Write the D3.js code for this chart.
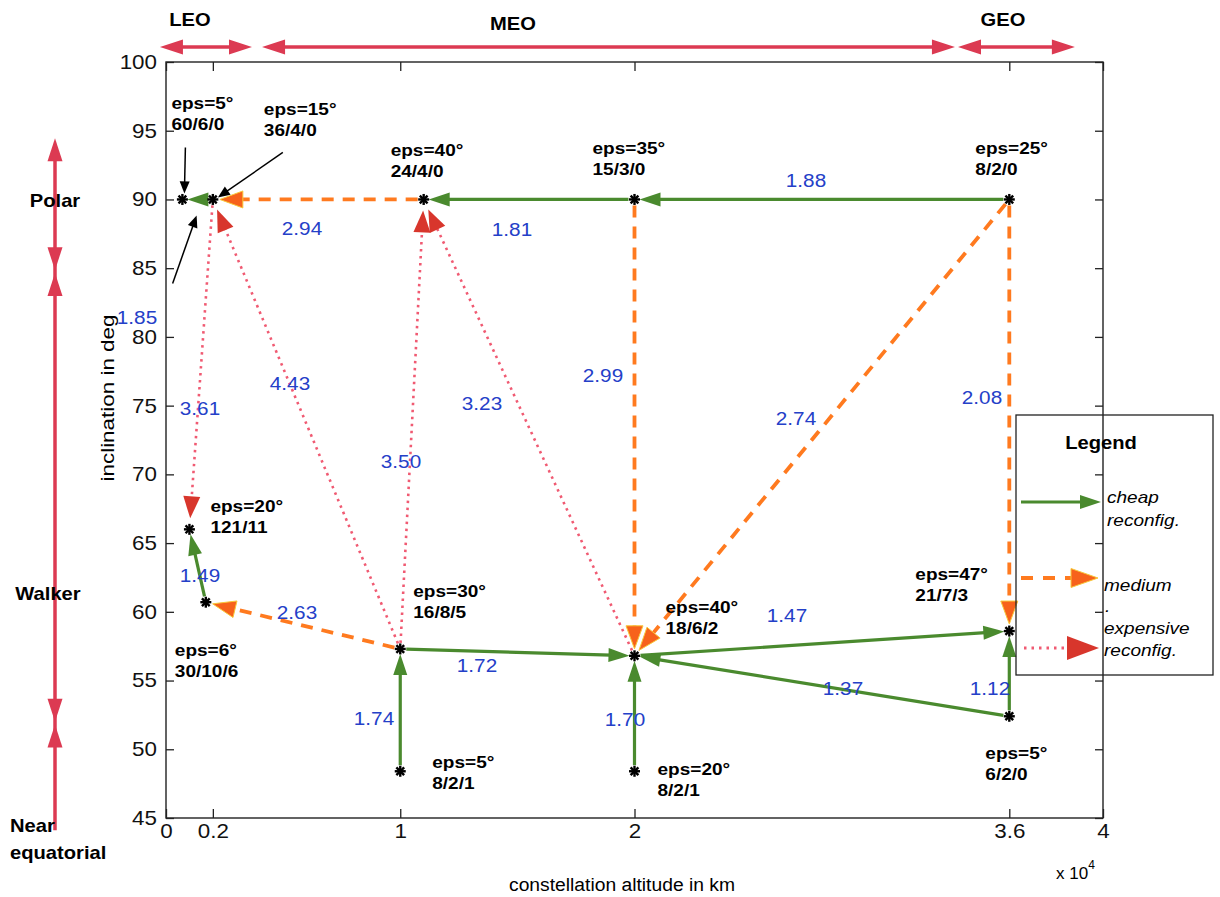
<!DOCTYPE html>
<html><head><meta charset="utf-8">
<script src="https://cdn.jsdelivr.net/npm/d3@7"></script>
<style>body{margin:0;background:#fff}</style>
</head><body>
<svg id="c" width="1220" height="897" xmlns="http://www.w3.org/2000/svg"></svg>
<script>
// ---------------- data ----------------
const xTicks = [0, 0.2, 1, 2, 3.6, 4];
const xTickLabels = ["0", "0.2", "1", "2", "3.6", "4"];
const yTicks = [45, 50, 55, 60, 65, 70, 75, 80, 85, 90, 95, 100];

// constellation nodes: altitude (x10^4 km), inclination (deg)
const nodeIds  = ["A", "B", "C", "D", "E", "F", "G", "H", "I", "J", "K", "L", "M"];
const nodeAlt  = [0.07, 0.2, 1.1, 2.0, 3.6, 0.1, 0.17, 1.0, 2.0, 3.6, 3.6, 1.0, 2.0];
const nodeInc  = [90, 90, 90, 90, 90, 66, 60.7, 57.3, 56.8, 58.6, 52.4, 48.4, 48.4];
const nodeEps  = ["eps=5°", "eps=15°", "eps=40°", "eps=35°", "eps=25°", "eps=20°", "eps=6°",
                  "eps=30°", "eps=40°", "eps=47°", "eps=5°", "eps=5°", "eps=20°"];
const nodeCfg  = ["60/6/0", "36/4/0", "24/4/0", "15/3/0", "8/2/0", "121/11", "30/10/6",
                  "16/8/5", "18/6/2", "21/7/3", "6/2/0", "8/2/1", "8/2/1"];

// reconfiguration transitions
const edgeFrom = ["B","G","L","H","M","I","K","K","D","E", "C","D","E","E","H", "B","H","H","I"];
const edgeTo   = ["A","F","H","I","I","J","I","J","C","D", "B","I","I","J","G", "F","B","C","C"];
const edgeCost = ["1.85","1.49","1.74","1.72","1.70","1.47","1.37","1.12","1.81","1.88",
                  "2.94","2.99","2.74","2.08","2.63", "3.61","4.43","3.50","3.23"];
const edgeType = ["cheap","cheap","cheap","cheap","cheap","cheap","cheap","cheap","cheap","cheap",
                  "medium","medium","medium","medium","medium",
                  "expensive","expensive","expensive","expensive"];

// orbit regimes (altitude ranges, x10^4 km) and inclination bands (deg)
const orbitNames = ["LEO", "MEO", "GEO"];
const orbitFrom  = [-0.026, 0.41, 3.381];
const orbitTo    = [0.367, 3.368, 3.88];
const bandNames  = ["Polar", "Walker", "Near equatorial"];
const bandFrom   = [84.85, 52.0, 44.1];
const bandTo     = [94.45, 84.65, 51.8];

// ---------------- layout (pixels) ----------------
const M = {left: 166, right: 1103, top: 62, bottom: 818};
const nodeLabelOff = { A:[-11,-97], B:[51,-91], C:[-33,-50], D:[-42,-52], E:[-34,-52],
  F:[21,-23], G:[-31,48], H:[13,-58], I:[31,-49], J:[-94,-57], K:[-24,37], L:[32,-9], M:[23,-2] };
const costLabelPos = [[137,317],[200,575],[374,718],[477,665],[625,719],[787,615],[843,688],[990,688],
  [512,229],[806,180],[302,228],[603,375],[796,418],[982,397],[297,612],[200,408],[290,383],[401,461],[482,403]];
const orbitLabelX = [190, 513, 1003];
const orbitLabelY = [20, 24, 20];

const COL = {
  green: "#4a8a2e", orange: "#ff7a1f", orangeHead: "#f7621b", orangeEdge: "#f8c83a",
  pink: "#f05a72", redHead: "#d8362c", band: "#dc3a52", blue: "#2440c8"
};
const FONT = "'Liberation Sans', Arial, Helvetica, sans-serif";
const SX = 1.12;

const svg = d3.select("#c");
const x = d3.scaleLinear().domain([0, 4]).range([M.left, M.right]);
const y = d3.scaleLinear().domain([45, 100]).range([M.bottom, M.top]);

function T(g, px, py, s, o = {}) {
  return g.append("text")
    .attr("transform", `translate(${px},${py}) scale(${o.sx ?? SX},1)`)
    .attr("dy", "0.36em")
    .attr("font-family", FONT)
    .attr("font-size", o.size ?? 17)
    .attr("font-weight", o.weight ?? "normal")
    .attr("font-style", o.style ?? "normal")
    .attr("text-anchor", o.anchor ?? "start")
    .attr("fill", o.fill ?? "#000")
    .text(s);
}

function head(g, tx, ty, ux, uy, L, hw, fill, stroke) {
  const bx = tx - ux * L, by = ty - uy * L;
  const nx = -uy, ny = ux;
  g.append("path")
    .attr("d", `M${tx},${ty}L${bx + nx * hw},${by + ny * hw}L${bx - nx * hw},${by - ny * hw}Z`)
    .attr("fill", fill)
    .attr("stroke", stroke || "none")
    .attr("stroke-width", stroke ? 1 : 0);
}

function arrow(g, x0, y0, x1, y1, st) {
  const dx = x1 - x0, dy = y1 - y0, len = Math.hypot(dx, dy);
  const ux = dx / len, uy = dy / len;
  const sx = x0 + ux * st.sg, sy = y0 + uy * st.sg;
  const tx = x1 - ux * st.eg, ty = y1 - uy * st.eg;
  const bx = tx - ux * st.L * 0.9, by = ty - uy * st.L * 0.9;
  g.append("line").attr("x1", sx).attr("y1", sy).attr("x2", bx).attr("y2", by)
    .attr("stroke", st.color).attr("stroke-width", st.w)
    .attr("stroke-dasharray", st.dash || null)
    .attr("stroke-linecap", st.cap || "butt");
  head(g, tx, ty, ux, uy, st.L, st.hw, st.head, st.edge);
}

const STY = {
  cheap:     {color: COL.green, w: 3.2, L: 21, hw: 7, head: COL.green, sg: 6, eg: 5},
  medium:    {color: COL.orange, w: 3.8, dash: "12,9", L: 23, hw: 8.5, head: COL.orangeHead, edge: COL.orangeEdge, sg: 6, eg: 7},
  expensive: {color: COL.pink, w: 2.6, dash: "2.5,4.5", L: 22, hw: 8.5, head: COL.redHead, sg: 6, eg: 11}
};

// ---------------- axes ----------------
const gAx = svg.append("g");
gAx.append("rect").attr("x", M.left).attr("y", M.top)
  .attr("width", M.right - M.left).attr("height", M.bottom - M.top)
  .attr("fill", "none").attr("stroke", "#222").attr("stroke-width", 1.4);

function styleAxis(sel) {
  sel.select(".domain").remove();
  sel.selectAll(".tick line").attr("stroke", "#222").attr("stroke-width", 1.3);
  sel.selectAll(".tick text").attr("font-family", FONT).attr("font-size", 20).attr("fill", "#111");
}
const axL = gAx.append("g").attr("transform", `translate(${M.left},0)`)
  .call(d3.axisLeft(y).tickValues(yTicks).tickSize(-8).tickPadding(9).tickFormat(d3.format("d")));
styleAxis(axL);
axL.selectAll(".tick text").attr("transform", `scale(${SX},1)`).attr("x", -9 / SX);

const axR = gAx.append("g").attr("transform", `translate(${M.right},0)`)
  .call(d3.axisRight(y).tickValues(yTicks).tickSize(-8).tickFormat(""));
styleAxis(axR);

const axB = gAx.append("g").attr("transform", `translate(0,${M.bottom})`)
  .call(d3.axisBottom(x).tickValues(xTicks).tickSize(-9).tickPadding(5)
    .tickFormat((d, i) => xTickLabels[i]));
styleAxis(axB);
axB.selectAll(".tick text").attr("transform", `scale(${SX},1)`).attr("dy", "0.75em");

const axT = gAx.append("g").attr("transform", `translate(0,${M.top})`)
  .call(d3.axisTop(x).tickValues(xTicks).tickSize(-9).tickFormat(""));
styleAxis(axT);

// axis titles
svg.append("text").attr("x", 622).attr("y", 885).attr("dy", "0.36em")
  .attr("text-anchor", "middle").attr("font-family", FONT).attr("font-size", 18)
  .attr("textLength", 226).attr("lengthAdjust", "spacingAndGlyphs")
  .text("constellation altitude in km");
svg.append("text").attr("transform", "translate(108,398) rotate(-90)").attr("dy", "0.36em")
  .attr("text-anchor", "middle").attr("font-family", FONT).attr("font-size", 18)
  .attr("textLength", 167).attr("lengthAdjust", "spacingAndGlyphs")
  .text("inclination in deg");
const xe = svg.append("text").attr("x", 1056).attr("y", 879).attr("font-family", FONT).attr("font-size", 17);
xe.append("tspan").text("x 10");
xe.append("tspan").attr("dy", -10).attr("font-size", 12).text("4");

// ---------------- orbit regime arrows (top) ----------------
const gTop = svg.append("g");
orbitNames.forEach((n, i) => {
  const x0 = x(orbitFrom[i]), x1 = x(orbitTo[i]), yy = 47;
  gTop.append("line").attr("x1", x0 + 18).attr("x2", x1 - 18).attr("y1", yy).attr("y2", yy)
    .attr("stroke", COL.band).attr("stroke-width", 3.5);
  head(gTop, x0, yy, -1, 0, 23, 7.5, COL.band);
  head(gTop, x1, yy, 1, 0, 23, 7.5, COL.band);
  T(gTop, orbitLabelX[i], orbitLabelY[i], n, {size: 18, weight: "bold", anchor: "middle"});
});

// ---------------- inclination bands (left) ----------------
const gLeft = svg.append("g");
const bx = 55;
gLeft.append("line").attr("x1", bx).attr("x2", bx).attr("y1", y(bandTo[0]) + 10).attr("y2", y(bandFrom[2]))
  .attr("stroke", COL.band).attr("stroke-width", 3.5);
bandNames.forEach((n, i) => {
  head(gLeft, bx, y(bandTo[i]), 0, -1, 23, 7.5, COL.band);
  if (i < 2) head(gLeft, bx, y(bandFrom[i]), 0, 1, 23, 7.5, COL.band);
});
T(gLeft, 55, 201, "Polar", {size: 18, weight: "bold", anchor: "middle"});
T(gLeft, 48, 594, "Walker", {size: 18, weight: "bold", anchor: "middle"});
T(gLeft, 10, 826, "Near", {size: 18, weight: "bold"});
T(gLeft, 10, 853, "equatorial", {size: 18, weight: "bold"});

// ---------------- transitions ----------------
const idx = id => nodeIds.indexOf(id);
const gEdges = svg.append("g");
["expensive", "medium", "cheap"].forEach(tp => {
  edgeType.forEach((t, k) => {
    if (t !== tp) return;
    const a = idx(edgeFrom[k]), b = idx(edgeTo[k]);
    arrow(gEdges, x(nodeAlt[a]), y(nodeInc[a]), x(nodeAlt[b]), y(nodeInc[b]), STY[t]);
  });
});
edgeCost.forEach((c, k) => {
  T(gEdges, costLabelPos[k][0], costLabelPos[k][1], c, {size: 18.5, anchor: "middle", fill: COL.blue});
});

// ---------------- nodes ----------------
const gNodes = svg.append("g");
nodeIds.forEach((id, i) => {
  const px = x(nodeAlt[i]), py = y(nodeInc[i]);
  const r = 5.5;
  [0, 45, 90, 135].forEach(a => {
    const rad = a * Math.PI / 180, cx = Math.cos(rad) * r, cy = Math.sin(rad) * r;
    gNodes.append("line").attr("x1", px - cx).attr("y1", py - cy).attr("x2", px + cx).attr("y2", py + cy)
      .attr("stroke", "#000").attr("stroke-width", 2.4);
  });
  const o = nodeLabelOff[id];
  T(gNodes, px + o[0], py + o[1], nodeEps[i], {size: 17, weight: "bold"});
  T(gNodes, px + o[0], py + o[1] + 21, nodeCfg[i], {size: 17, weight: "bold"});
});

// black pointer arrows
function pointer(x0, y0, x1, y1) {
  const dx = x1 - x0, dy = y1 - y0, len = Math.hypot(dx, dy), ux = dx / len, uy = dy / len;
  gNodes.append("line").attr("x1", x0).attr("y1", y0).attr("x2", x1 - ux * 8).attr("y2", y1 - uy * 8)
    .attr("stroke", "#000").attr("stroke-width", 1.5);
  head(gNodes, x1, y1, ux, uy, 12, 5, "#000");
}
{
  const A = idx("A"), B = idx("B");
  const ax = x(nodeAlt[A]), ay = y(nodeInc[A]), bx2 = x(nodeAlt[B]), by2 = y(nodeInc[B]);
  pointer(ax + 3, ay - 52, ax + 2, ay - 6);
  pointer(bx2 + 70, by2 - 47, bx2 + 5, by2 - 2);
  pointer((ax + bx2) / 2 - 25, ay + 84, (ax + bx2) / 2 - 1, ay + 16);
}

// ---------------- legend ----------------
const gLeg = svg.append("g");
gLeg.append("rect").attr("x", 1016).attr("y", 415).attr("width", 197).attr("height", 260)
  .attr("fill", "none").attr("stroke", "#222").attr("stroke-width", 1.3);
T(gLeg, 1101, 443, "Legend", {size: 18, weight: "bold", anchor: "middle"});
arrow(gLeg, 1021, 502, 1101, 502, {color: COL.green, w: 3.2, L: 21, hw: 7, head: COL.green, sg: 0, eg: 0});
T(gLeg, 1107, 497, "cheap", {size: 17, style: "italic"});
T(gLeg, 1107, 520, "reconfig.", {size: 17, style: "italic"});
arrow(gLeg, 1021, 578, 1098, 578, {color: COL.orange, w: 3.8, dash: "12,10", L: 27, hw: 9.5, head: COL.orangeHead, edge: COL.orangeEdge, sg: 0, eg: 0});
T(gLeg, 1104, 585, "medium", {size: 17, style: "italic"});
T(gLeg, 1105, 606, ".", {size: 17, style: "italic"});
T(gLeg, 1104, 628, "expensive", {size: 17, style: "italic"});
T(gLeg, 1104, 650, "reconfig.", {size: 17, style: "italic"});
arrow(gLeg, 1024, 648, 1099, 648, {color: COL.pink, w: 2.8, dash: "2.5,5", L: 32, hw: 12, head: COL.redHead, sg: 0, eg: 0});
</script>
</body></html>
